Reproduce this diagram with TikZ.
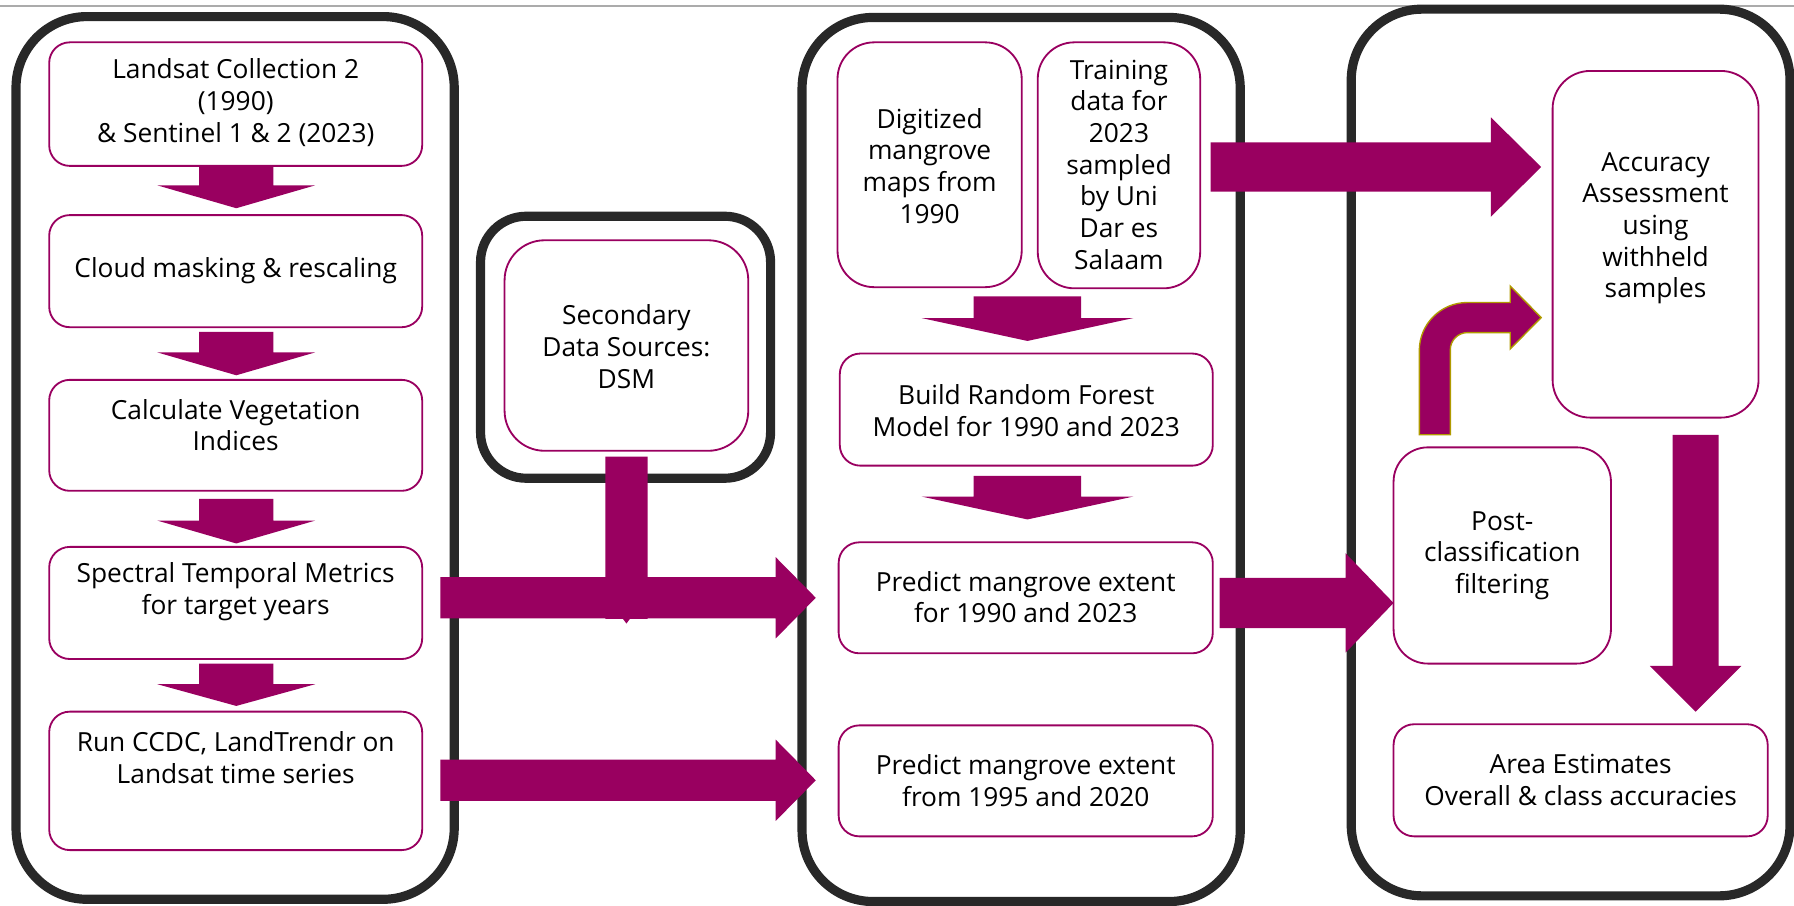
\documentclass[tikz,border=0pt]{standalone}
\usepackage{fontspec}
\setmainfont{Open Sans}
\definecolor{mag}{HTML}{990060}
\definecolor{framec}{HTML}{282828}
\definecolor{rulec}{HTML}{ABABAB}
\definecolor{goldc}{HTML}{B09A00}
% cx, top, headstart, tip, half shaft, half head
\newcommand{\blockdown}[6]{\fill[mag] (#1-#5,#2) -- (#1+#5,#2) -- (#1+#5,#3) -- (#1+#6,#3) -- (#1,#4) -- (#1-#6,#3) -- (#1-#5,#3) -- cycle;}
% cy, left, headstart, tip, half shaft, half head
\newcommand{\blockright}[6]{\fill[mag] (#2,#1-#5) -- (#3,#1-#5) -- (#3,#1-#6) -- (#4,#1) -- (#3,#1+#6) -- (#3,#1+#5) -- (#2,#1+#5) -- cycle;}
\tikzset{
  cont/.style={draw=framec, line width=8pt, rounded corners=62pt, rectangle, inner sep=0pt},
  mbox/.style={draw=mag, line width=1.6pt, rounded corners=18pt, rectangle, fill=white, inner sep=0pt},
  tbox/.style={mbox, rounded corners=32pt},
  txt/.style={align=center, font=\fontsize{23}{27.7}\selectfont, inner sep=0pt, text=black},
}
\begin{document}
\begin{tikzpicture}[x=1pt,y=-1pt]
\useasboundingbox (0,0) rectangle (1568,791);
\draw[rulec, line width=2pt] (0,5.5) -- (1568,5.5);

% containers
\node[cont, minimum width=383pt, minimum height=771.5pt] (C1) at (205.5,400.25) {};
\node[cont, minimum width=383pt, minimum height=772.7pt] (C2) at (892.5,401.6) {};
\node[cont, rounded corners=40pt, minimum width=253.5pt, minimum height=229pt] (CD) at (546.75,303.5) {};
\node[cont, minimum width=383.5pt, minimum height=775pt] (C3) at (1372.75,395.5) {};

% left column boxes
\node[mbox, minimum width=326pt, minimum height=108pt] (b1) at (206,91) {};
\node[txt] (t1) at (206,89.5) {Landsat Collection 2\\(1990)\\\& Sentinel 1 \& 2 (2023)};
\node[mbox, minimum width=326pt, minimum height=98pt] (b2) at (206,237) {};
\node[txt] (t2) at (206,237) {Cloud masking \& rescaling};
\node[mbox, minimum width=326pt, minimum height=97pt] (b3) at (206,380.5) {};
\node[txt] (t3) at (206,371.5) {Calculate Vegetation\\Indices};
\node[mbox, minimum width=326pt, minimum height=98pt] (b4) at (206,527) {};
\node[txt] (t4) at (206,517) {Spectral Temporal Metrics\\for target years};
\node[mbox, minimum width=326pt, minimum height=121pt] (b5) at (206,682.5) {};
\node[txt] (t5) at (206,662) {Run CCDC, LandTrendr on\\Landsat time series};

% DSM
\node[mbox, rounded corners=35pt, minimum width=213pt, minimum height=184pt] (bd) at (547.5,302) {};
\node[txt] (td) at (547.5,303) {Secondary\\Data Sources:\\DSM};

% middle column
\node[tbox, minimum width=161pt, minimum height=214pt] (bdig) at (812.5,144) {};
\node[txt] (tdig) at (812.5,145) {Digitized\\mangrove\\maps from\\1990};
\node[tbox, minimum width=142pt, minimum height=215pt] (btr) at (978,144.5) {};
\node[txt] (ttr) at (978,144) {Training\\data for\\2023\\sampled\\by Uni\\Dar es\\Salaam};
\node[mbox, minimum width=326pt, minimum height=98pt] (brf) at (897,358) {};
\node[txt] (trf) at (897,359) {Build Random Forest\\Model for 1990 and 2023};
\node[mbox, minimum width=327pt, minimum height=97pt] (bp1) at (896.5,522.5) {};
\node[txt] (tp1) at (896.5,522) {Predict mangrove extent\\for 1990 and 2023};
\node[mbox, minimum width=327pt, minimum height=97pt] (bp2) at (896.5,682.5) {};
\node[txt] (tp2) at (896.5,682) {Predict mangrove extent\\from 1995 and 2020};

% right column
\node[tbox, rounded corners=33pt, minimum width=180pt, minimum height=303pt] (bacc) at (1447,213.5) {};
\node[txt] (tacc) at (1447,199.5) {Accuracy\\Assessment\\using\\withheld\\samples};
\node[tbox, rounded corners=30pt, minimum width=190pt, minimum height=189pt] (bpost) at (1313,485.5) {};
\node[txt] (tpost) at (1313,485.5) {Post-\\classification\\filtering};
\node[mbox, minimum width=327pt, minimum height=98pt] (barea) at (1381.5,682) {};
\node[txt] (tarea) at (1381.5,682) {Area Estimates\\Overall \& class accuracies};

% down arrows
\blockdown{206.5}{146}{162}{182}{32.5}{69}
\blockdown{206.5}{290}{308}{328}{32.5}{69}
\blockdown{206.5}{436}{455}{475}{32.5}{69}
\blockdown{206.5}{580}{598}{617}{32.5}{69}
\blockdown{898}{259}{278}{298}{47}{92.5}
\blockdown{898}{416}{434}{454}{47}{92.5}
\blockdown{1482}{380}{582}{622}{20}{40}

% DSM vertical shaft
\fill[mag] (529,399) -- (566,399) -- (566,541) -- (550.5,541) -- (547.5,545) -- (544.5,541) -- (529,541) -- cycle;

% right arrows
\blockright{522.5}{385}{678}{713}{18}{35.5}
\blockright{682}{385}{678}{713}{18}{35.5}
\blockright{146}{1058}{1303}{1347}{21.5}{43.5}
\blockright{527}{1066}{1176}{1218}{22}{43.5}

% bent arrow
\filldraw[fill=mag, draw=goldc, line width=1.2pt]
  (1240.5,380) -- (1240.5,306.4)
  .. controls (1240.5,283.2) and (1259.3,264.4) .. (1282.5,264.4)
  -- (1320,264.4) -- (1320,250) -- (1347,277.6) -- (1320,305) -- (1320,290.7)
  -- (1282.6,290.7)
  .. controls (1274.3,290.7) and (1267.6,297.4) .. (1267.6,305.7)
  -- (1267.6,380) -- cycle;
\end{tikzpicture}
\end{document}
